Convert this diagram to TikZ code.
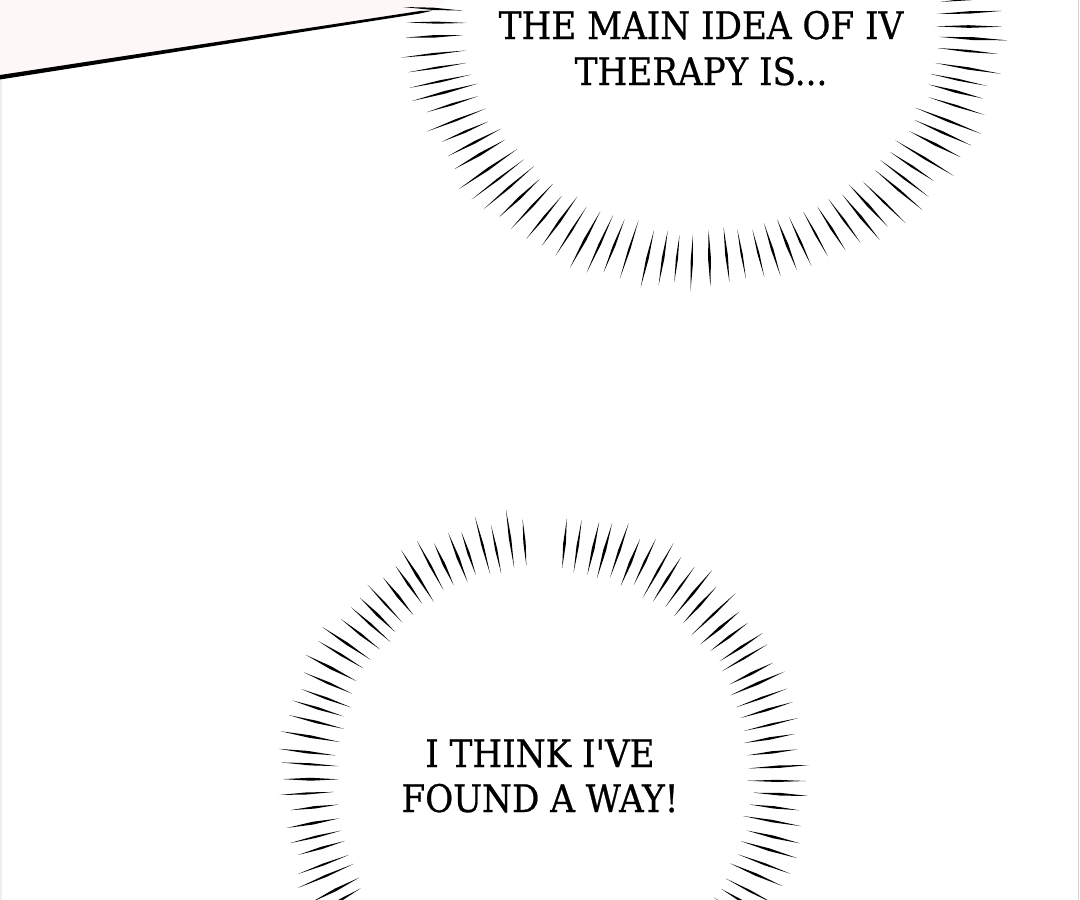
\documentclass[tikz,border=0pt]{standalone}
\usepackage{fontspec}
\newfontfamily\capfont{DejaVu Serif Condensed}[FakeBold=0.6]
\definecolor{pinkbg}{HTML}{FDF7F7}
\definecolor{edgeR}{HTML}{D4D4D4}
\definecolor{edgeL}{HTML}{EEEEEE}
\tikzset{
  caption/.style={font=\capfont\fontsize{38}{46}\selectfont, inner sep=0pt, text=black, anchor=base},
  ray/.style={fill=black, draw=none},
}
\newcommand{\mkburst}[7]{% cx cy rx ry Rx Ry gapangle
  \foreach \k in {0,...,105} {
    \pgfmathsetmacro\th{\k*3.4+rand*0.45}
    \pgfmathsetmacro\gapflag{abs(\th-#7)<2.2?1:0}
    \pgfmathsetmacro\ri{rand*4}
    \pgfmathsetmacro\ro{rand*7}
    \pgfmathsetmacro\ix{#1+(#3+\ri)*cos(\th)}
    \pgfmathsetmacro\iy{#2+(#4+\ri)*sin(\th)}
    \pgfmathsetmacro\ox{#1+(#5+\ro)*cos(\th)}
    \pgfmathsetmacro\oy{#2+(#6+\ro)*sin(\th)}
    \pgfmathsetmacro\ddx{\ox-\ix}
    \pgfmathsetmacro\ddy{\oy-\iy}
    \pgfmathsetmacro\len{veclen(\ddx,\ddy)}
    \pgfmathsetmacro\w{1.25+0.25*rand}
    \pgfmathsetmacro\px{-\ddy/\len*\w}
    \pgfmathsetmacro\py{\ddx/\len*\w}
    \pgfmathsetmacro\mx{\ix+0.5*\ddx}
    \pgfmathsetmacro\my{\iy+0.5*\ddy}
    \ifdim\gapflag pt<0.5pt
      \fill[ray] (\ix,\iy) -- (\mx+\px,\my+\py) -- (\ox,\oy) -- (\mx-\px,\my-\py) -- cycle;
    \fi
  }
}
\begin{document}
\begin{tikzpicture}[x=1pt,y=-1pt]
  \pgfmathsetseed{4711}
  \useasboundingbox (0,0) rectangle (1080,900);
  \fill[white] (0,0) rectangle (1080,900);
  \begin{scope}
    \clip (0,0) rectangle (1080,900);
    % pink panel corner
    \fill[pinkbg] (0,0) -- (445,0) -- (432,11) -- (0,77) -- cycle;
    \fill[black] (0,75) -- (420,11) -- (433,10.5) -- (420,13.5) -- (0,79.5) -- cycle;
    % edges
    \draw[edgeL, line width=1.2] (1,80) -- (1,900);
    \draw[edgeR, line width=1.5] (1078.5,0) -- (1078.5,900);
    % bursts
    \mkburst{702}{25}{237}{207}{300}{262}{1000}
    \mkburst{543}{780}{207}{213}{261}{267}{270}
  \end{scope}
  \node[caption] (t1a) at (701,39) {THE MAIN IDEA OF IV};
  \node[caption] (t1b) at (701,85) {THERAPY IS...};
  \node[caption] (t2a) at (540,767) {I THINK I'VE};
  \node[caption] (t2b) at (540,812) {FOUND A WAY!};
\end{tikzpicture}
\end{document}
